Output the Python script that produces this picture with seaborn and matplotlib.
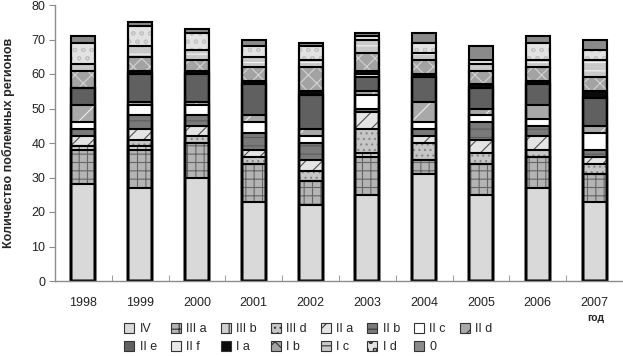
import numpy as np
import matplotlib
matplotlib.use('Agg')
import matplotlib.pyplot as plt
from matplotlib.patches import Patch
import seaborn as sns

# Data (stack order bottom -> top)
years = ['1998', '1999', '2000', '2001', '2002', '2003', '2004', '2005', '2006', '2007']
iv    = [28, 27, 30, 23, 22, 25, 31, 25, 27, 23]
iii_a = [10, 11, 10, 11, 7, 11, 4, 9, 9, 8]
iii_b = [1, 1, 0, 0, 0, 1, 0, 0, 0, 0]
iii_d = [0, 2, 2, 2, 3, 7, 5, 3, 2, 3]
ii_a  = [3, 3, 3, 2, 3, 5, 2, 4, 4, 2]
ii_b  = [2, 4, 3, 5, 5, 1, 2, 5, 3, 2]
ii_c  = [2, 3, 3, 3, 2, 4, 2, 2, 2, 5]
ii_d  = [5, 1, 1, 2, 2, 1, 6, 2, 4, 2]
ii_e  = [5, 8, 8, 9, 10, 4, 7, 6, 6, 8]
ii_f  = [0, 0, 0, 0, 0, 1, 0, 0, 0, 0]
i_a   = [0, 1, 1, 1, 1, 1, 1, 1, 1, 2]
i_b   = [5, 4, 3, 4, 7, 5, 4, 4, 4, 4]
i_c   = [2, 3, 3, 3, 2, 4, 2, 2, 2, 5]
i_d   = [6, 6, 5, 3, 4, 1, 3, 1, 5, 3]
zero  = [2, 1, 1, 2, 1, 1, 3, 4, 2, 3]

labels = ['IV', 'III a', 'III b', 'III d', 'II a', 'II b', 'II c', 'II d',
          'II e', 'II f', 'I a', 'I b', 'I c', 'I d', '0']
values = [iv, iii_a, iii_b, iii_d, ii_a, ii_b, ii_c, ii_d,
          ii_e, ii_f, i_a, i_b, i_c, i_d, zero]

# facecolor, hatch, hatch colour -- grayscale textures imitating the original fills
styles = {
    'IV':    ('#d9d9d9', None, '#d9d9d9'),
    'III a': ('#b4b4b4', '++', '#666666'),
    'III b': ('#d0d0d0', '||', '#606060'),
    'III d': ('#c6c6c6', '...', '#858585'),
    'II a':  ('#e4e4e4', '//', '#505050'),
    'II b':  ('#7a7a7a', '--', '#5c5c5c'),
    'II c':  ('#ffffff', None, '#ffffff'),
    'II d':  ('#a9a9a9', '/', '#ececec'),
    'II e':  ('#606060', None, '#606060'),
    'II f':  ('#e8e8e8', None, '#e8e8e8'),
    'I a':   ('#0a0a0a', None, '#0a0a0a'),
    'I b':   ('#a3a3a3', 'xx', '#d4d4d4'),
    'I c':   ('#c9c9c9', '--', '#f2f2f2'),
    'I d':   ('#e2e2e2', 'oo', '#c4c4c4'),
    '0':     ('#8a8a8a', None, '#8a8a8a'),
}

sns.set_style('white')
plt.rcParams['font.family'] = ['Liberation Sans', 'DejaVu Sans']
plt.rcParams['hatch.linewidth'] = 0.8

fig = plt.figure(figsize=(6.23, 3.56), dpi=100)
ax = fig.add_axes([55 / 623, 75 / 356, 568 / 623, 276 / 356])

cum = np.cumsum(np.array(values), axis=0)
bar_w = 0.42

# filled layers, tallest cumulative first so smaller ones sit on top
for i in range(len(labels) - 1, -1, -1):
    n = len(ax.patches)
    face, hatch, hcol = styles[labels[i]]
    sns.barplot(x=years, y=cum[i], color=face, saturation=1, width=bar_w,
                errorbar=None, ax=ax)
    for p in ax.patches[n:]:
        p.set_hatch(hatch)
        p.set_edgecolor(hcol)
        p.set_linewidth(0)

# black outlines for every segment
for i in range(len(labels)):
    sns.barplot(x=years, y=cum[i], fill=False, color='black', width=bar_w,
                errorbar=None, ax=ax, linewidth=1.5)

ax.set_ylim(0, 80)
ax.set_yticks(range(0, 81, 10))
ax.set_xlim(-0.5, 9.36)
ax.set_xticks(np.arange(-0.5, 9.6, 1), minor=True)
ax.set_xlabel('')
ax.set_ylabel('Количество поблемных регионов', fontsize=9, fontweight='bold')
ax.yaxis.set_label_coords(-0.07, 0.5)

for s in ['top', 'right']:
    ax.spines[s].set_visible(False)
for s in ['left', 'bottom']:
    ax.spines[s].set_color('#8c8c8c')
    ax.spines[s].set_linewidth(1)

ax.tick_params(axis='y', left=True, direction='out', length=4, color='#8c8c8c',
               labelsize=9, labelcolor='#222222', pad=3)
ax.tick_params(axis='x', which='major', bottom=False, labelsize=9,
               labelcolor='#222222', pad=8)
ax.tick_params(axis='x', which='minor', bottom=True, direction='in', length=4,
               color='#8c8c8c')

handles = []
for lab in labels:
    face, hatch, hcol = styles[lab]
    handles.append(Patch(facecolor=face, hatch=hatch, edgecolor='#333333', linewidth=0.8))

# legend fills column by column, so interleave to read row by row (8 + 7)
order = []
for j in range(8):
    order.append(j)
    if j + 8 < len(labels):
        order.append(j + 8)

fig.legend([handles[k] for k in order], [labels[k] for k in order], ncol=8,
           loc='upper left', bbox_to_anchor=(124 / 623, 1 - 323 / 356),
           frameon=False, fontsize=9, handlelength=0.8, handleheight=0.8,
           handletextpad=0.45, columnspacing=1.1, labelspacing=0.5,
           borderpad=0, borderaxespad=0)

fig.text(596 / 623, 1 - 318 / 356, 'год', fontsize=7.5, fontweight='bold',
         ha='center', va='center')

fig.savefig('out.png', dpi=100)
